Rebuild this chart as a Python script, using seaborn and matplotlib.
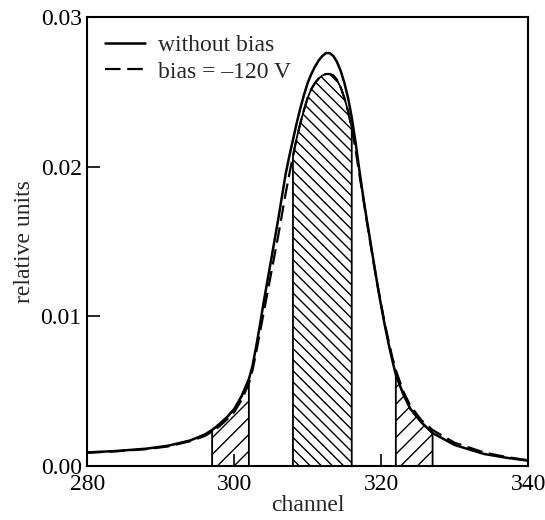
import matplotlib
matplotlib.use("Agg")
from matplotlib import pyplot as plt
import matplotlib.ticker as mtick
import numpy as np
import seaborn as sns

# channel grid
channel = np.array([280, 284, 288, 291, 294, 296, 297, 298, 299, 300, 301, 302,
                    302.5, 303, 303.5, 304, 304.5, 305, 305.5, 306, 306.5, 307, 307.5,
                    308, 308.5, 309, 309.5, 310, 310.5, 311, 311.5, 312, 312.5, 313,
                    313.5, 314, 314.5, 315, 315.5, 316, 316.5, 317, 317.5, 318, 318.5,
                    319, 319.5, 320, 320.5, 321, 321.5, 322,
                    323, 324, 325.5, 327, 330, 334, 337, 340])

without_bias = np.array([0.00090, 0.00100, 0.00115, 0.00135, 0.00170, 0.00210, 0.00240,
                         0.00280, 0.00325, 0.00380, 0.00465, 0.00580,
                         0.00670, 0.00800, 0.00940, 0.01090, 0.01230, 0.01370, 0.01510,
                         0.01650, 0.01800, 0.01950, 0.02070,
                         0.02180, 0.02290, 0.02390, 0.02480, 0.02560, 0.02620, 0.02670,
                         0.02710, 0.02740, 0.02760, 0.02760,
                         0.02740, 0.02700, 0.02640, 0.02560, 0.02460, 0.02330, 0.02170,
                         0.01990, 0.01820, 0.01660, 0.01510,
                         0.01360, 0.01210, 0.01070, 0.00940, 0.00820, 0.00710, 0.00610,
                         0.00480, 0.00380, 0.00290, 0.00220, 0.00140, 0.00080, 0.00055,
                         0.00035])

bias_120 = np.array([0.00088, 0.00098, 0.00112, 0.00130, 0.00165, 0.00200, 0.00230,
                     0.00265, 0.00310, 0.00360, 0.00440, 0.00550,
                     0.00640, 0.00760, 0.00890, 0.01020, 0.01150, 0.01280, 0.01410,
                     0.01540, 0.01680, 0.01820, 0.01950,
                     0.02070, 0.02190, 0.02290, 0.02380, 0.02460, 0.02520, 0.02560,
                     0.02590, 0.02610, 0.02620, 0.02620,
                     0.02610, 0.02580, 0.02530, 0.02460, 0.02370, 0.02260, 0.02120,
                     0.01960, 0.01810, 0.01650, 0.01500,
                     0.01350, 0.01210, 0.01080, 0.00950, 0.00840, 0.00730, 0.00640,
                     0.00500, 0.00400, 0.00305, 0.00240, 0.00155, 0.00090, 0.00060,
                     0.00038])

# shaded channel windows
wing_left = (297, 302)
centre = (308, 316)
wing_right = (322, 327)

sns.set_style("white")
plt.rcParams["font.family"] = ["Liberation Serif", "DejaVu Serif"]
plt.rcParams["hatch.linewidth"] = 1.0

fig = plt.figure(figsize=(5.45, 5.2), dpi=100)
ax = fig.add_axes([0.160, 0.104, 0.809, 0.863])

# hatched windows
for (lo, hi), curve, hatch in [(wing_left, without_bias, "//"),
                               (centre, bias_120, "\\\\\\"),
                               (wing_right, without_bias, "//")]:
    m = (channel >= lo) & (channel <= hi)
    ax.fill_between(channel[m], 0, curve[m], facecolor="none", edgecolor="k",
                    hatch=hatch, linewidth=1.3)

sns.lineplot(x=channel, y=without_bias, color="k", lw=1.8, ax=ax,
             label="without bias")
sns.lineplot(x=channel, y=bias_120, color="k", lw=1.6, ax=ax,
             linestyle=(0, (7, 3)), label="bias = \u2013120 V")

ax.set_xlim(280, 340)
ax.set_ylim(0, 0.03)
ax.set_xticks([280, 300, 320, 340])
ax.set_yticks([0.0, 0.01, 0.02, 0.03])
ax.yaxis.set_major_formatter(mtick.StrMethodFormatter("{x:.2f}"))
ax.tick_params(direction="in", length=9, width=1.2, labelsize=17, colors="k",
               top=False, right=False, left=True, bottom=True)
ax.tick_params(axis="x", pad=6)
ax.tick_params(axis="y", pad=4)
for s in ax.spines.values():
    s.set_color("k")
    s.set_linewidth(1.5)

ax.set_xlabel("channel", fontsize=17, labelpad=0)
ax.set_ylabel("relative units", fontsize=17, labelpad=4)

ax.legend(loc="upper left", frameon=False, fontsize=17, handlelength=1.7,
          handletextpad=0.55, labelspacing=0.2, borderaxespad=0.35,
          bbox_to_anchor=(0.0, 1.0))

fig.savefig("out.png", dpi=100)
